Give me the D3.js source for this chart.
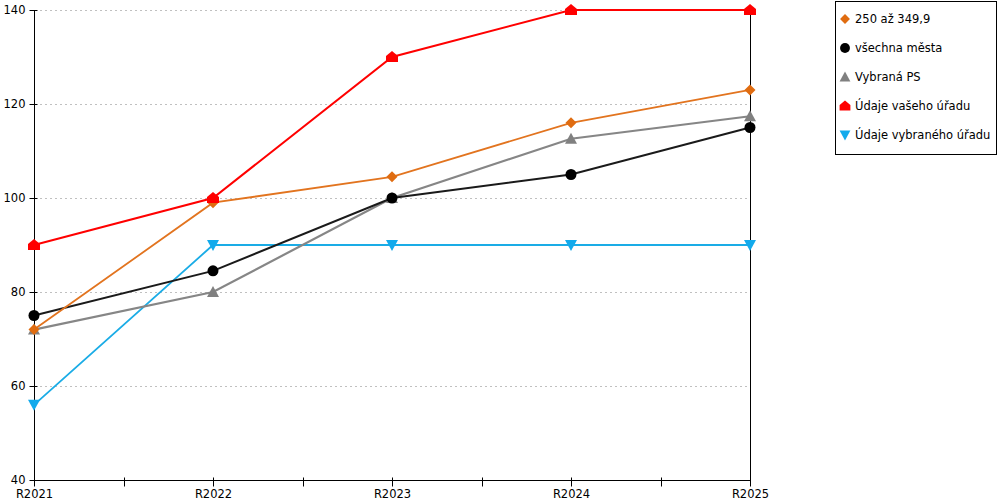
<html>
<head>
<meta charset="utf-8">
<title>Chart</title>
<script src="https://cdn.jsdelivr.net/npm/d3@7"></script>
<style>
  html, body { margin: 0; padding: 0; background: #fff; }
  svg { font-family: "DejaVu Sans", Verdana, sans-serif; }
</style>
</head>
<body>
<svg width="1000" height="500" id="mainsvg"></svg>
<script>
// data
const years = ["R2021", "R2022", "R2023", "R2024", "R2025"];
const yTicks = [40, 60, 80, 100, 120, 140];
const seriesNames = ["250 až 349,9", "všechna města", "Vybraná PS", "Údaje vašeho úřadu", "Údaje vybraného úřadu"];
const v250 = [72, 99, 104.5, 116, 123];
const vAll = [75, 84.5, 100, 105, 115];
const vPS = [72, 80, 100, 112.6, 117.4];
const vMine = [90, 100, 130, 140, 140];
const vOther = [56, 90, 90, 90, 90];

const colors = ["#e2741f", "#1a1a1a", "#868686", "#ff0000", "#1aace6"];
const markerColors = ["#e06c10", "#000000", "#808080", "#ff0000", "#12aaec"];
const shapes = ["diamond", "circle", "triangle", "house", "triangleDown"];
const widths = [1.8, 2, 2.2, 2, 1.8];
// draw order: back to front as in the picture
const order = [4, 2, 1, 0, 3];
const allValues = [v250, vAll, vPS, vMine, vOther];

const svg = d3.select('#mainsvg');
const x = d3.scalePoint().domain(years).range([34, 750]);
const y = d3.scaleLinear().domain([40, 140]).range([480, 10]);

// grid
svg.append('g').selectAll('line').data(yTicks.filter(d => d > 40)).join('line')
  .attr('x1', 40).attr('x2', 750)
  .attr('y1', d => y(d) + 0.5).attr('y2', d => y(d) + 0.5)
  .attr('stroke', '#c0c0c0').attr('stroke-width', 1).attr('stroke-dasharray', '2,3');

// right border line
svg.append('line').attr('x1', 750.5).attr('x2', 750.5).attr('y1', y(140)).attr('y2', y(40))
  .attr('stroke', '#000').attr('stroke-width', 1);

// y axis
const yAxis = svg.append('g').attr('transform', 'translate(34.5,0)')
  .call(d3.axisLeft(y).tickValues(yTicks).tickSize(5).tickPadding(4));
yAxis.select('.domain').remove();
yAxis.append('line').attr('y1', y(140)).attr('y2', y(40)).attr('stroke', '#000');
yAxis.selectAll('.tick line').attr('x1', 3).attr('x2', -5);
yAxis.selectAll('text').attr('font-size', 11.5).attr('fill', '#000').attr('font-family', '"DejaVu Sans", Verdana, sans-serif');

// x axis
const xAxis = svg.append('g').attr('transform', 'translate(0,480.5)')
  .call(d3.axisBottom(x).tickSize(6).tickPadding(3));
xAxis.select('.domain').remove();
xAxis.append('line').attr('x1', 34).attr('x2', 751).attr('stroke', '#000');
xAxis.selectAll('.tick line').attr('y1', -3).attr('y2', 6);
xAxis.selectAll('text').attr('font-size', 11.5).attr('fill', '#000').attr('font-family', '"DejaVu Sans", Verdana, sans-serif');
const mids = d3.pairs(years).map(([a, b]) => (x(a) + x(b)) / 2);
xAxis.selectAll('.minor').data(mids).join('line').attr('class', 'minor')
  .attr('x1', d => Math.round(d) + 0.5).attr('x2', d => Math.round(d) + 0.5)
  .attr('y1', -3).attr('y2', 6).attr('stroke', '#000');

function markerPath(shape) {
  switch (shape) {
    case 'diamond': return 'M0,-5.5L5.5,0L0,5.5L-5.5,0Z';
    case 'circle': return d3.symbol(d3.symbolCircle, 95)();
    case 'triangle': return 'M0,-6L6,5L-6,5Z';
    case 'house': return 'M0,-6L6,-1L6,5L-6,5L-6,-1Z';
    case 'triangleDown': return 'M-6,-5L6,-5L0,6Z';
  }
}

const line = d3.line().x((d, i) => x(years[i])).y(d => y(d));

order.forEach(s => {
  const g = svg.append('g');
  g.append('path').datum(allValues[s]).attr('d', line)
    .attr('fill', 'none').attr('stroke', colors[s]).attr('stroke-width', widths[s]);
  g.selectAll('path.m').data(allValues[s]).join('path').attr('class', 'm')
    .attr('transform', (d, i) => `translate(${x(years[i])},${y(d)})`)
    .attr('d', markerPath(shapes[s]))
    .attr('fill', markerColors[s]);
});

// legend
const legend = svg.append('g');
legend.append('rect').attr('x', 835.5).attr('y', 1.5).attr('width', 161).attr('height', 153)
  .attr('fill', '#fff').attr('stroke', '#000').attr('stroke-width', 1);
const items = legend.selectAll('g.item').data(seriesNames).join('g').attr('class', 'item')
  .attr('transform', (d, i) => `translate(845,${19 + i * 29})`);
items.append('path').attr('d', (d, i) => markerPath(shapes[i]))
  .attr('fill', (d, i) => markerColors[i])
  .attr('transform', 'scale(0.9)');
items.append('text').attr('x', 10).attr('dy', '0.36em').attr('font-size', 11.5)
  .attr('fill', '#000').text(d => d);
</script>
</body>
</html>
